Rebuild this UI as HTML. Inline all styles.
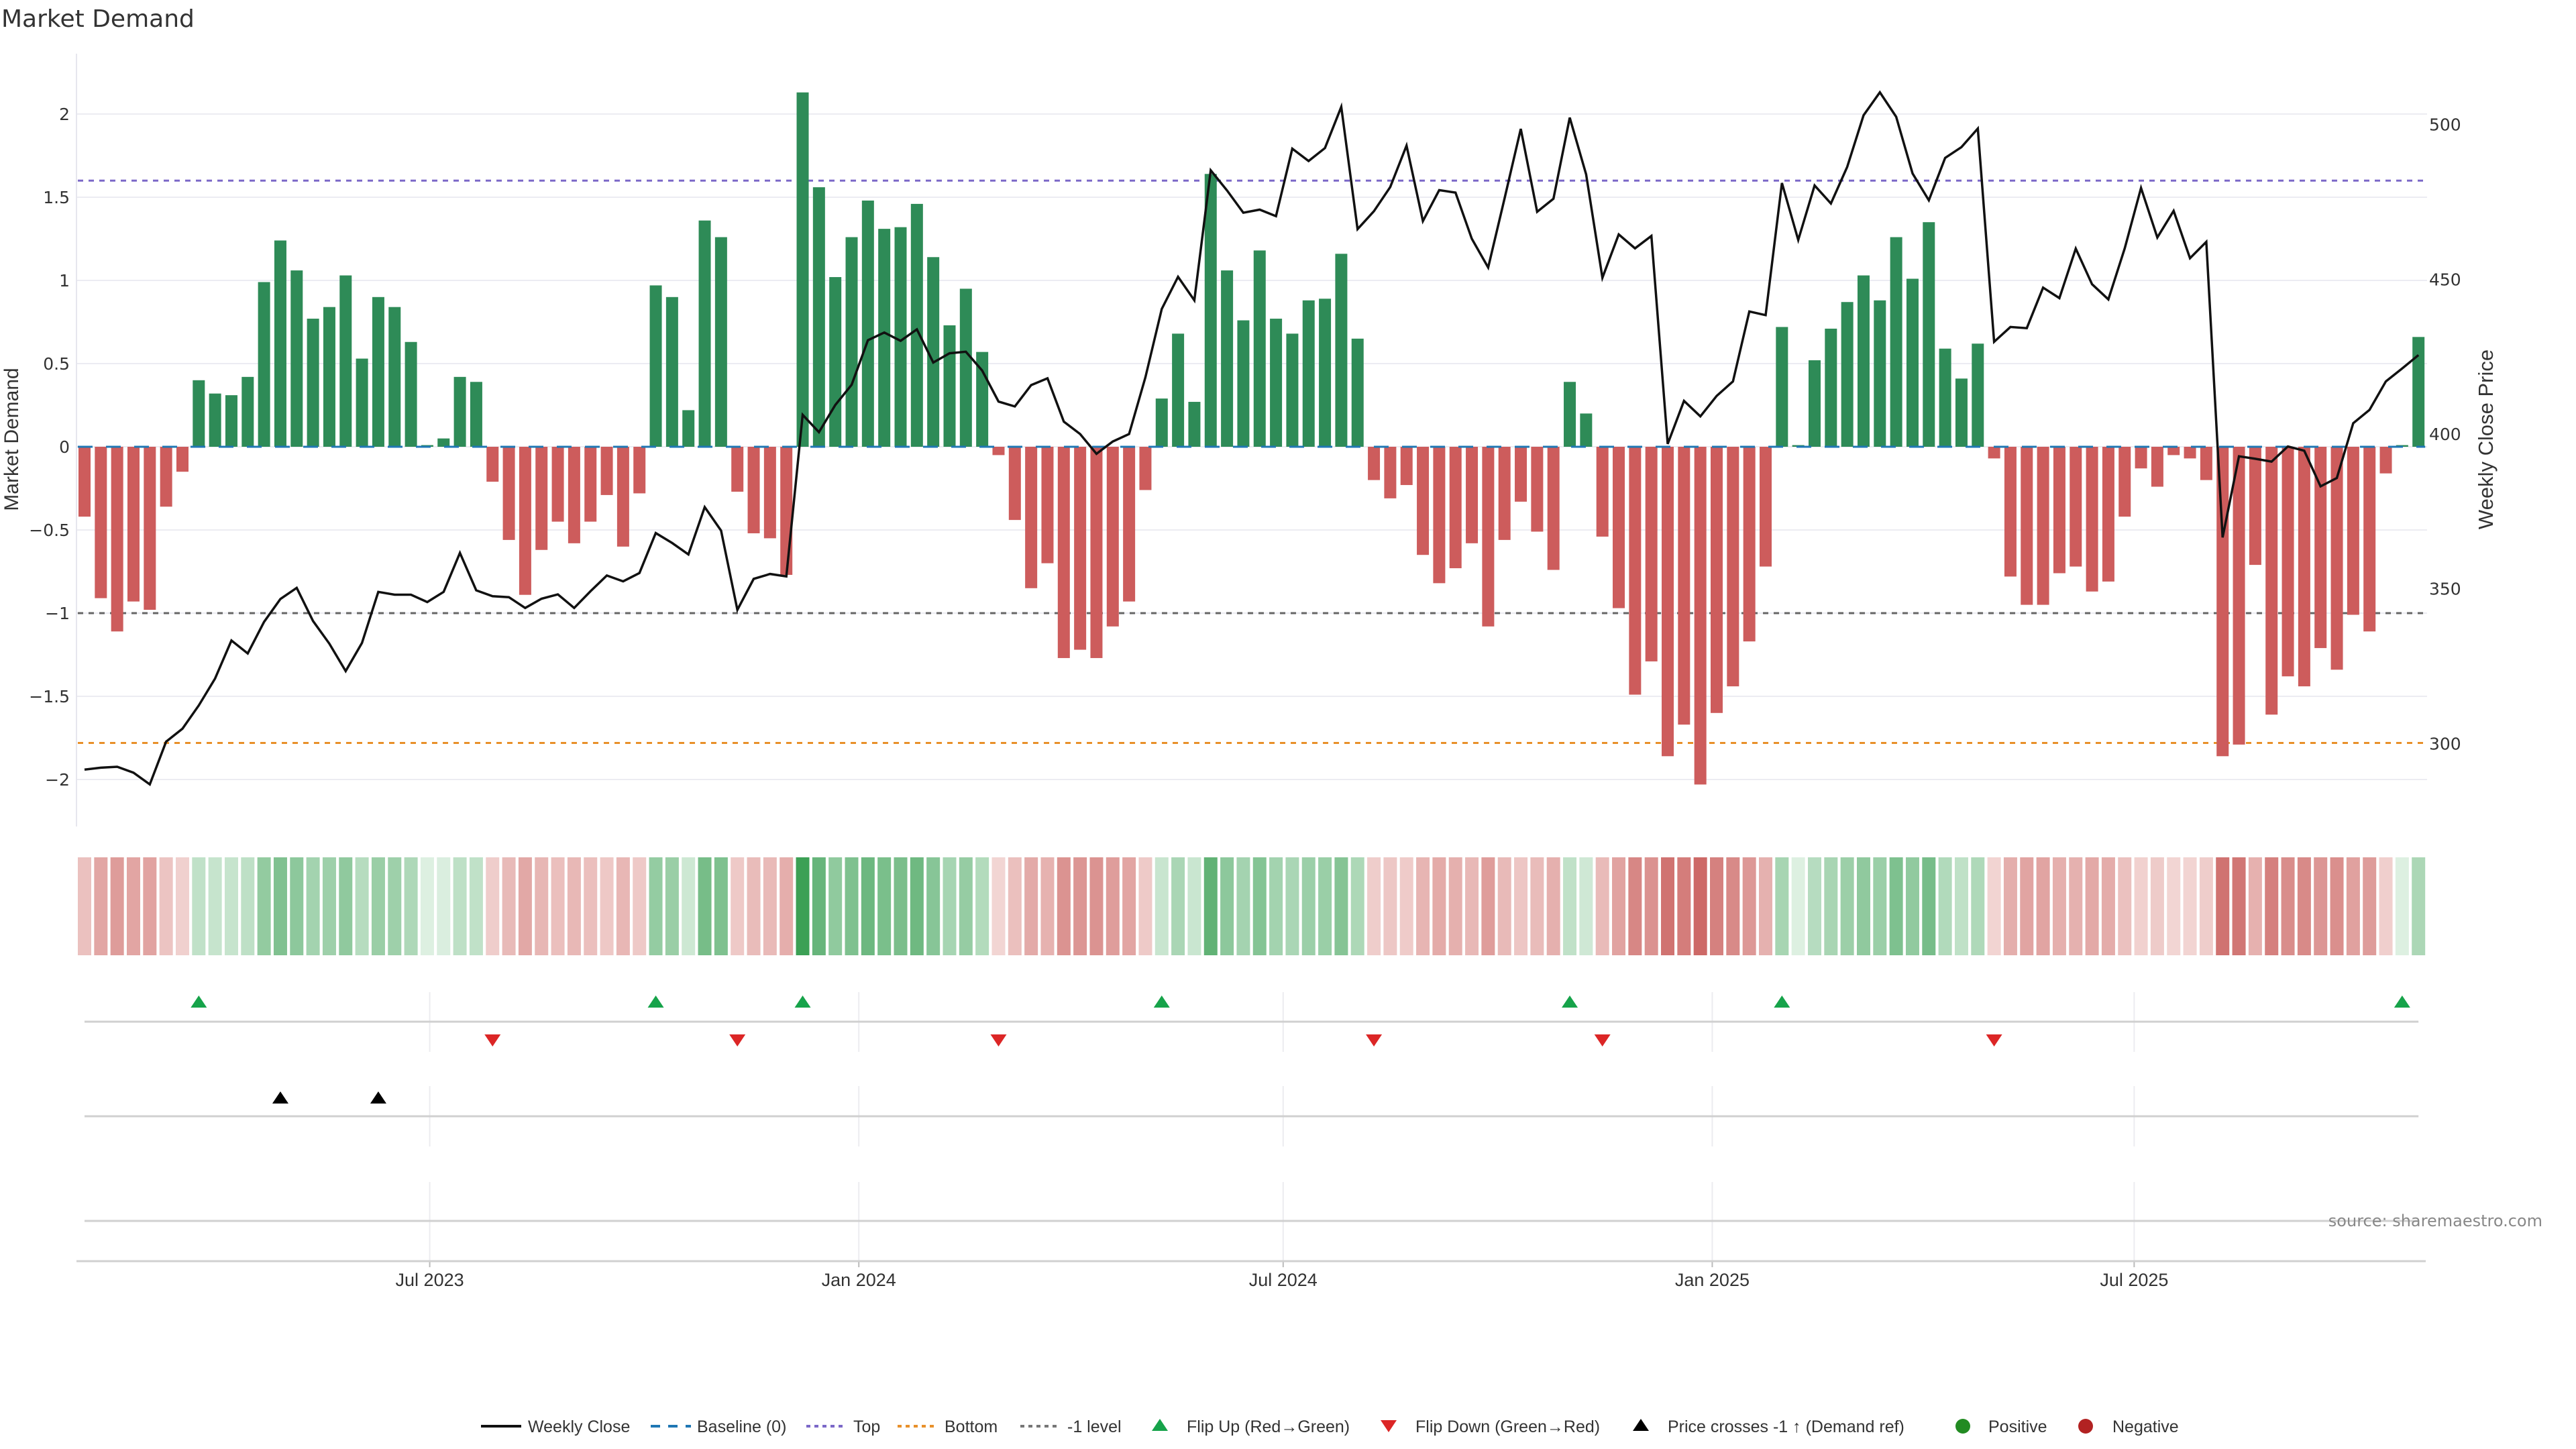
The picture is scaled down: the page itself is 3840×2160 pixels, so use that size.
<!DOCTYPE html>
<html><head><meta charset="utf-8"><style>
html,body{margin:0;padding:0;background:#fff;}
svg{display:block;}
text{font-family:"DejaVu Sans","Liberation Sans",sans-serif;}
.nar{font-family:"Liberation Sans Narrow","Liberation Sans",sans-serif;}
</style></head><body>
<svg id="chart" width="3840" height="2160" viewBox="0 0 3840 2160" xmlns="http://www.w3.org/2000/svg">
<text x="2" y="40" font-size="36" fill="#333">Market Demand</text>
<g id="grid"></g><g id="refs"></g><g id="bars"></g><g id="line"></g><g id="axes"></g>
<g id="heat"></g><g id="panels"></g><g id="legend"></g>
<text x="3790" y="1828" font-size="24" fill="#888" text-anchor="end">source: sharemaestro.com</text>
</svg>
<script>
const demand=[-0.42,-0.91,-1.11,-0.93,-0.98,-0.36,-0.15,0.40,0.32,0.31,
0.42,0.99,1.24,1.06,0.77,0.84,1.03,0.53,0.90,0.84,
0.63,0.01,0.05,0.42,0.39,-0.21,-0.56,-0.89,-0.62,-0.45,
-0.58,-0.45,-0.29,-0.60,-0.28,0.97,0.90,0.22,1.36,1.26,
-0.27,-0.52,-0.55,-0.77,2.13,1.56,1.02,1.26,1.48,1.31,
1.32,1.46,1.14,0.73,0.95,0.57,-0.05,-0.44,-0.85,-0.70,
-1.27,-1.22,-1.27,-1.08,-0.93,-0.26,0.29,0.68,0.27,1.64,
1.06,0.76,1.18,0.77,0.68,0.88,0.89,1.16,0.65,-0.20,
-0.31,-0.23,-0.65,-0.82,-0.73,-0.58,-1.08,-0.56,-0.33,-0.51,
-0.74,0.39,0.20,-0.54,-0.97,-1.49,-1.29,-1.86,-1.67,-2.03,
-1.60,-1.44,-1.17,-0.72,0.72,0.01,0.52,0.71,0.87,1.03,
0.88,1.26,1.01,1.35,0.59,0.41,0.62,-0.07,-0.78,-0.95,
-0.95,-0.76,-0.72,-0.87,-0.81,-0.42,-0.13,-0.24,-0.05,-0.07,
-0.20,-1.86,-1.79,-0.71,-1.61,-1.38,-1.44,-1.21,-1.34,-1.01,
-1.11,-0.16,0.01,0.66];
const price=[291.6,292.2,292.5,290.6,286.8,300.6,304.8,312.3,321.0,333.3,
329.1,339.3,346.7,350.3,339.6,332.3,323.4,332.5,349.0,348.1,
348.1,345.7,349.0,361.6,349.5,347.6,347.3,343.8,346.8,348.2,
343.8,349.2,354.3,352.4,355.1,368.0,364.8,361.1,376.4,368.8,
343.2,353.2,354.8,354.0,406.2,400.6,409.4,415.9,430.3,432.8,
430.1,433.8,423.1,426.1,426.6,420.5,410.5,408.9,415.8,418.0,
404.0,400.0,393.6,397.6,400.0,418.3,440.4,450.8,443.2,485.2,
478.7,471.5,472.5,470.4,492.2,488.2,492.4,505.7,466.2,472.0,
479.8,493.2,468.8,478.8,478.0,463.1,453.8,476.0,498.6,471.8,
476.0,502.2,483.9,450.5,464.5,460.0,464.0,396.8,410.7,405.7,
412.3,417.0,439.6,438.4,481.1,462.7,480.3,474.5,486.3,503.0,
510.4,502.5,484.2,475.5,489.2,492.7,498.7,429.8,434.6,434.2,
447.3,443.9,459.9,448.4,443.5,460.0,479.5,463.5,472.1,456.8,
462.1,366.6,392.8,392.0,391.1,396.0,394.6,383.1,385.8,403.5,
407.8,417.0,421.2,425.5];
const crossIdx=[12,18];
const leftTicks=[-2,-1.5,-1,-0.5,0,0.5,1,1.5,2];
const rightTicks=[300,350,400,450,500];
const dateTicks=["Jul 2023","Jan 2024","Jul 2024","Jan 2025","Jul 2025"];
const dateTickWeeks=[21.15,47.44,73.44,99.73,125.58];
const levels={top:1.6,bottom:-1.78,minus1:-1};

const NS="http://www.w3.org/2000/svg";
function mk(parent,tag,attrs){const e=document.createElementNS(NS,tag);for(const k in attrs)e.setAttribute(k,attrs[k]);document.getElementById(parent).appendChild(e);return e;}
const X0=126,PITCH=24.33,L=114,R=3618;
const xS=i=>X0+i*PITCH;
const ZERO=666,UNIT=248;
const yL=v=>ZERO-v*UNIT;
const yR=p=>647-(p-400)/50*230.7;

leftTicks.forEach(t=>{
 let g=mk('grid','line',{x1:L,x2:R,y1:yL(t),y2:yL(t),stroke:'#ececf2','stroke-width':2});
 
 
 let tx=mk('axes','text',{x:104,y:yL(t)+9,'font-size':25,fill:'#333','text-anchor':'end'});
 tx.textContent=(t<0?'\u2212':'')+Math.abs(t);
 
 
});
rightTicks.forEach(t=>{
 let tx=mk('axes','text',{x:3621,y:yR(t)+9,'font-size':25,fill:'#333'});
 tx.textContent=t;
 
 
});
let ax=mk('axes','line',{x1:L,x2:L,y1:80,y2:1232,stroke:'#e6e6ee','stroke-width':2});


let yt=mk('axes','text',{x:0,y:0,'font-size':30,fill:'#333','text-anchor':'middle',transform:'translate(27,655) rotate(-90)',class:'nar'});
yt.textContent='Market Demand';


let yt2=mk('axes','text',{x:0,y:0,'font-size':31,fill:'#333','text-anchor':'middle',transform:'translate(3716,655) rotate(-90)',class:'nar'});
yt2.textContent='Weekly Close Price';



[[levels.top,'#7b68c8','top-line'],[levels.bottom,'#e8902a','bottom-line'],[levels.minus1,'#666','minus1-line']].forEach(([v,c,n])=>{
 let l=mk('refs','line',{x1:X0-10,x2:R,y1:yL(v),y2:yL(v),stroke:c,'stroke-width':3,'stroke-dasharray':'8 8'});
 
 
});

demand.forEach((v,i)=>{
 const y=Math.min(yL(v),ZERO),h=Math.abs(yL(v)-ZERO);
 let b=mk('bars','rect',{x:xS(i)-9,y:y,width:18,height:Math.max(h,0.5),fill:v>=0?'#2e8b57':'#cd5c5c'});
 
 
});
let bl=mk('bars','line',{x1:X0-10,x2:xS(demand.length-1)+10,y1:ZERO,y2:ZERO,stroke:'#1f77b4','stroke-width':3,'stroke-dasharray':'22 20'});



let pts=price.map((p,i)=>xS(i).toFixed(1)+','+yR(p).toFixed(1)).join(' ');
let pl=mk('line','polyline',{points:pts,fill:'none',stroke:'#111','stroke-width':3.5,'stroke-linejoin':'miter'});



const mx=2.13;
demand.forEach((v,i)=>{
 const t=Math.min(Math.abs(v)/mx,1);
 let c;
 if(v>=0){c=[Math.round(222-(222-60)*t),Math.round(240-(240-160)*t),Math.round(226-(226-85)*t)];}
 else{c=[Math.round(243-(243-203)*t),Math.round(216-(216-100)*t),Math.round(214-(214-98)*t)];}
 let r=mk('heat','rect',{x:xS(i)-10,y:1278,width:20,height:146,fill:`rgb(${c})`});
 
 
});

const gx=w=>X0+w*PITCH;
dateTickWeeks.forEach((w,k)=>{
 [[1479,1568],[1619,1709],[1762,1880]].forEach(([a,b])=>{
  let g=mk('panels','line',{x1:gx(w),x2:gx(w),y1:a,y2:b,stroke:'#ececf0','stroke-width':2});
  
  
 });
 let tk=mk('panels','line',{x1:gx(w),x2:gx(w),y1:1880,y2:1889,stroke:'#bbb','stroke-width':2});
 
 
 let tl=mk('panels','text',{x:gx(w),y:1917,'font-size':27,fill:'#333','text-anchor':'middle',class:'nar'});
 tl.textContent=dateTicks[k];
 
 
});
[1523,1664,1820].forEach(y=>{
 let l=mk('panels','line',{x1:X0,x2:xS(demand.length-1),y1:y,y2:y,stroke:'#d0d0d0','stroke-width':3});
 
 
});
let xa=mk('panels','line',{x1:L,x2:3616,y1:1880,y2:1880,stroke:'#d0d0d0','stroke-width':3});


function tri(parent,cx,cy,up,fill,name){
 const p=up?`${cx-12},${cy+9} ${cx+12},${cy+9} ${cx},${cy-9}`:`${cx-12},${cy-9} ${cx+12},${cy-9} ${cx},${cy+9}`;
 let t=mk(parent,'polygon',{points:p,fill:fill});
 
 
}
for(let i=1;i<demand.length;i++){
 if(demand[i-1]<0&&demand[i]>=0)tri('panels',xS(i),1493,true,'#16a34a','flip-up-marker');
 if(demand[i-1]>=0&&demand[i]<0)tri('panels',xS(i),1551,false,'#dc2626','flip-down-marker');
}
crossIdx.forEach(i=>tri('panels',xS(i),1636,true,'#000','price-cross-marker'));

const LY=2146;
function ltext(x,s,n){let t=mk('legend','text',{x:x,y:LY+9,'font-size':25,fill:'#333',class:'nar'});t.textContent=s;}
function lline(x,c,dash,w,n){let l=mk('legend','line',{x1:x,x2:x+60,y1:LY,y2:LY,stroke:c,'stroke-width':w,'stroke-dasharray':dash});}
lline(725,'#111','none',4,'legend-weekly-close-swatch');ltext(795,'Weekly Close','legend-weekly-close');
lline(978,'#1f77b4','14 12',4,'legend-baseline-swatch');ltext(1047,'Baseline (0)','legend-baseline');
lline(1210,'#7b68c8','6 6',4,'legend-top-swatch');ltext(1280,'Top','legend-top');
lline(1346,'#e8902a','6 6',4,'legend-bottom-swatch');ltext(1416,'Bottom','legend-bottom');
lline(1529,'#777','6 6',4,'legend-minus1-swatch');ltext(1599,'-1 level','legend-minus1');
tri('legend',1737,LY-2,true,'#16a34a','legend-flip-up-swatch');ltext(1777,'Flip Up (Red\u2192Green)','legend-flip-up');
tri('legend',2078,LY,false,'#dc2626','legend-flip-down-swatch');ltext(2118,'Flip Down (Green\u2192Red)','legend-flip-down');
tri('legend',2454,LY-2,true,'#000','legend-price-cross-swatch');ltext(2494,'Price crosses -1 \u2191 (Demand ref)','legend-price-cross');
let c1=mk('legend','circle',{cx:2934,cy:LY,r:11,fill:'#228b22'});
ltext(2972,'Positive','legend-positive');
let c2=mk('legend','circle',{cx:3117,cy:LY,r:11,fill:'#b22222'});
ltext(3157,'Negative','legend-negative');
document.getElementById('legend').setAttribute('transform','translate(-8,-20)');
</script>
</body></html>
